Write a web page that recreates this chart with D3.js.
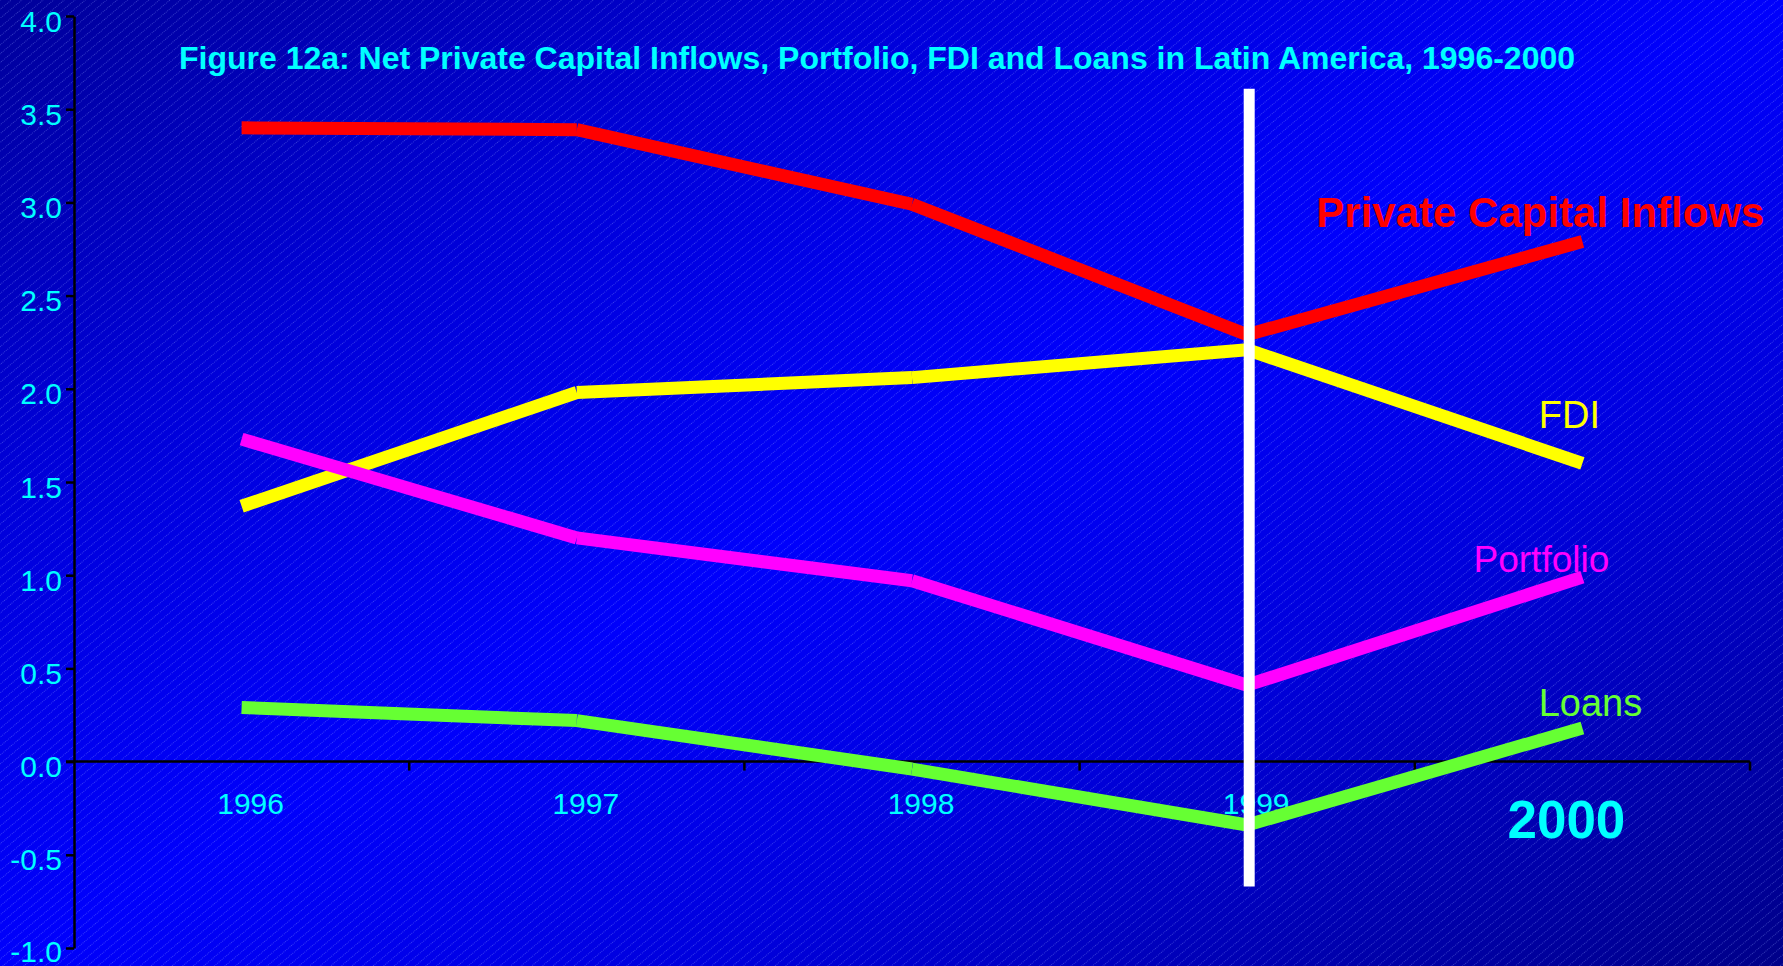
<!DOCTYPE html>
<html>
<head>
<meta charset="utf-8">
<script src="https://cdn.jsdelivr.net/npm/d3@7"></script>
<style>
  html, body { margin: 0; padding: 0; overflow: hidden; background: #0000c0; }
  text { font-family: "Liberation Sans", Arial, Helvetica, sans-serif; }
</style>
</head>
<body>
<svg id="chart" width="1783" height="966"></svg>
<script>
// Net private capital inflows to Latin America, % of GDP
const years = ["1996", "1997", "1998", "1999", "2000"];
const privateCapital = [3.40, 3.39, 2.99, 2.29, 2.79];
const fdi = [1.37, 1.98, 2.06, 2.21, 1.60];
const portfolio = [1.73, 1.20, 0.97, 0.41, 0.99];
const loans = [0.29, 0.22, -0.04, -0.34, 0.18];
const seriesNames = ["Private Capital Inflows", "FDI", "Portfolio", "Loans"];
const yTicks = [-1.0, -0.5, 0.0, 0.5, 1.0, 1.5, 2.0, 2.5, 3.0, 3.5, 4.0];
const markerYear = "1999";
const markerExtent = [-0.67, 3.61];
const titleText = "Figure 12a: Net Private Capital Inflows, Portfolio, FDI and Loans in Latin America, 1996-2000";

const W = 1783, H = 966;
const svg = d3.select("#chart");
const defs = svg.append("defs");

// Background: diagonal blue gradient with a fine dotted hatch
const grad = defs.append("linearGradient")
  .attr("id", "bg").attr("x1", 0).attr("y1", 0).attr("x2", 1).attr("y2", 1);
[[0, "#00009a"], [0.25, "#0000d8"], [0.5, "#0000fc"], [0.7, "#0000dc"], [1, "#000088"]]
  .forEach(([o, c]) => grad.append("stop").attr("offset", o).attr("stop-color", c));

const hatch = defs.append("pattern")
  .attr("id", "hatch").attr("patternUnits", "userSpaceOnUse")
  .attr("width", 6.8).attr("height", 4)
  .attr("patternTransform", "rotate(50)");
hatch.append("line")
  .attr("x1", 0.5).attr("y1", 0).attr("x2", 0.5).attr("y2", 4)
  .attr("stroke", "rgba(150,170,255,0.38)").attr("stroke-width", 0.9)
  .attr("stroke-dasharray", "1 1");

svg.append("rect").attr("width", W).attr("height", H).attr("fill", "url(#bg)");
svg.append("rect").attr("width", W).attr("height", H).attr("fill", "url(#hatch)");

// Scales
const x = d3.scaleBand().domain(years).range([74, 1750]);
const y = d3.scaleLinear().domain([-1, 4]).range([948, 16]);
const cx = d => x(d) + x.bandwidth() / 2;

// Title
svg.append("text")
  .attr("x", 877).attr("y", 69)
  .attr("text-anchor", "middle")
  .attr("font-size", 32).attr("font-weight", "bold")
  .attr("fill", "#00ffff")
  .attr("textLength", 1396).attr("lengthAdjust", "spacingAndGlyphs")
  .text(titleText);

// Y axis
const yAxis = svg.append("g").attr("transform", "translate(74,0)")
  .call(d3.axisLeft(y).tickValues(yTicks).tickFormat(d => d.toFixed(1)).tickSize(8).tickSizeOuter(0));
yAxis.select(".domain").attr("stroke", "#000").attr("stroke-width", 2.5);
yAxis.selectAll(".tick line").attr("stroke", "#000").attr("stroke-width", 2.5);
yAxis.selectAll(".tick text")
  .attr("fill", "#00ffff").attr("font-size", 30)
  .attr("font-family", "Liberation Sans, Arial, sans-serif")
  .attr("x", -12).attr("dy", d => d === -1 ? 13 : 15);

// X axis along zero, ticks at category boundaries
const xAxisG = svg.append("g").attr("transform", `translate(0,${y(0)})`);
xAxisG.append("line")
  .attr("x1", 66).attr("x2", x.range()[1])
  .attr("stroke", "#000").attr("stroke-width", 2.5);
xAxisG.selectAll("line.tk")
  .data(years.slice(1).concat(["end"]))
  .join("line").attr("class", "tk")
  .attr("x1", d => d === "end" ? x.range()[1] : x(d))
  .attr("x2", d => d === "end" ? x.range()[1] : x(d))
  .attr("y1", 0).attr("y2", 9)
  .attr("stroke", "#000").attr("stroke-width", 2.5);
xAxisG.selectAll("text.yr")
  .data(years)
  .join("text").attr("class", "yr")
  .attr("x", d => cx(d) + (d === "2000" ? -16 : 9))
  .attr("y", d => d === "2000" ? 76 : 52)
  .attr("text-anchor", "middle")
  .attr("fill", "#00ffff")
  .attr("font-size", d => d === "2000" ? 53 : 30)
  .attr("font-weight", d => d === "2000" ? "bold" : "normal")
  .text(d => d);

// Series lines, each segment drawn on its own with butt caps
const series = [
  { name: seriesNames[0], values: privateCapital, color: "#ff0000" },
  { name: seriesNames[1], values: fdi, color: "#ffff00" },
  { name: seriesNames[2], values: portfolio, color: "#ff00ff" },
  { name: seriesNames[3], values: loans, color: "#66ff33" }
];

series.forEach(s => {
  const pts = years.map((yr, i) => [cx(yr), y(s.values[i])]);
  const segs = d3.pairs(pts);
  svg.append("g").selectAll("line")
    .data(segs)
    .join("line")
    .attr("x1", d => d[0][0]).attr("y1", d => d[0][1])
    .attr("x2", d => d[1][0]).attr("y2", d => d[1][1])
    .attr("stroke", s.color).attr("stroke-width", 13)
    .attr("stroke-linecap", "butt");
});

// 1999 marker
svg.append("line")
  .attr("x1", cx(markerYear) + 2).attr("x2", cx(markerYear) + 2)
  .attr("y1", y(markerExtent[1])).attr("y2", y(markerExtent[0]))
  .attr("stroke", "#ffffff").attr("stroke-width", 11);

// Series labels near the 2000 end point
const labelStyle = [
  { dx: -42, dy: -15, size: 42, weight: "bold" },
  { dx: -13, dy: -35, size: 38, weight: "normal" },
  { dx: -41, dy: -5, size: 37, weight: "normal" },
  { dx: 8, dy: -12, size: 38, weight: "normal" }
];
series.forEach((s, i) => {
  const ls = labelStyle[i];
  svg.append("text")
    .attr("x", cx("2000") + ls.dx)
    .attr("y", y(s.values[4]) + ls.dy)
    .attr("text-anchor", "middle")
    .attr("fill", s.color)
    .attr("font-size", ls.size)
    .attr("font-weight", ls.weight)
    .text(s.name);
});
</script>
</body>
</html>
